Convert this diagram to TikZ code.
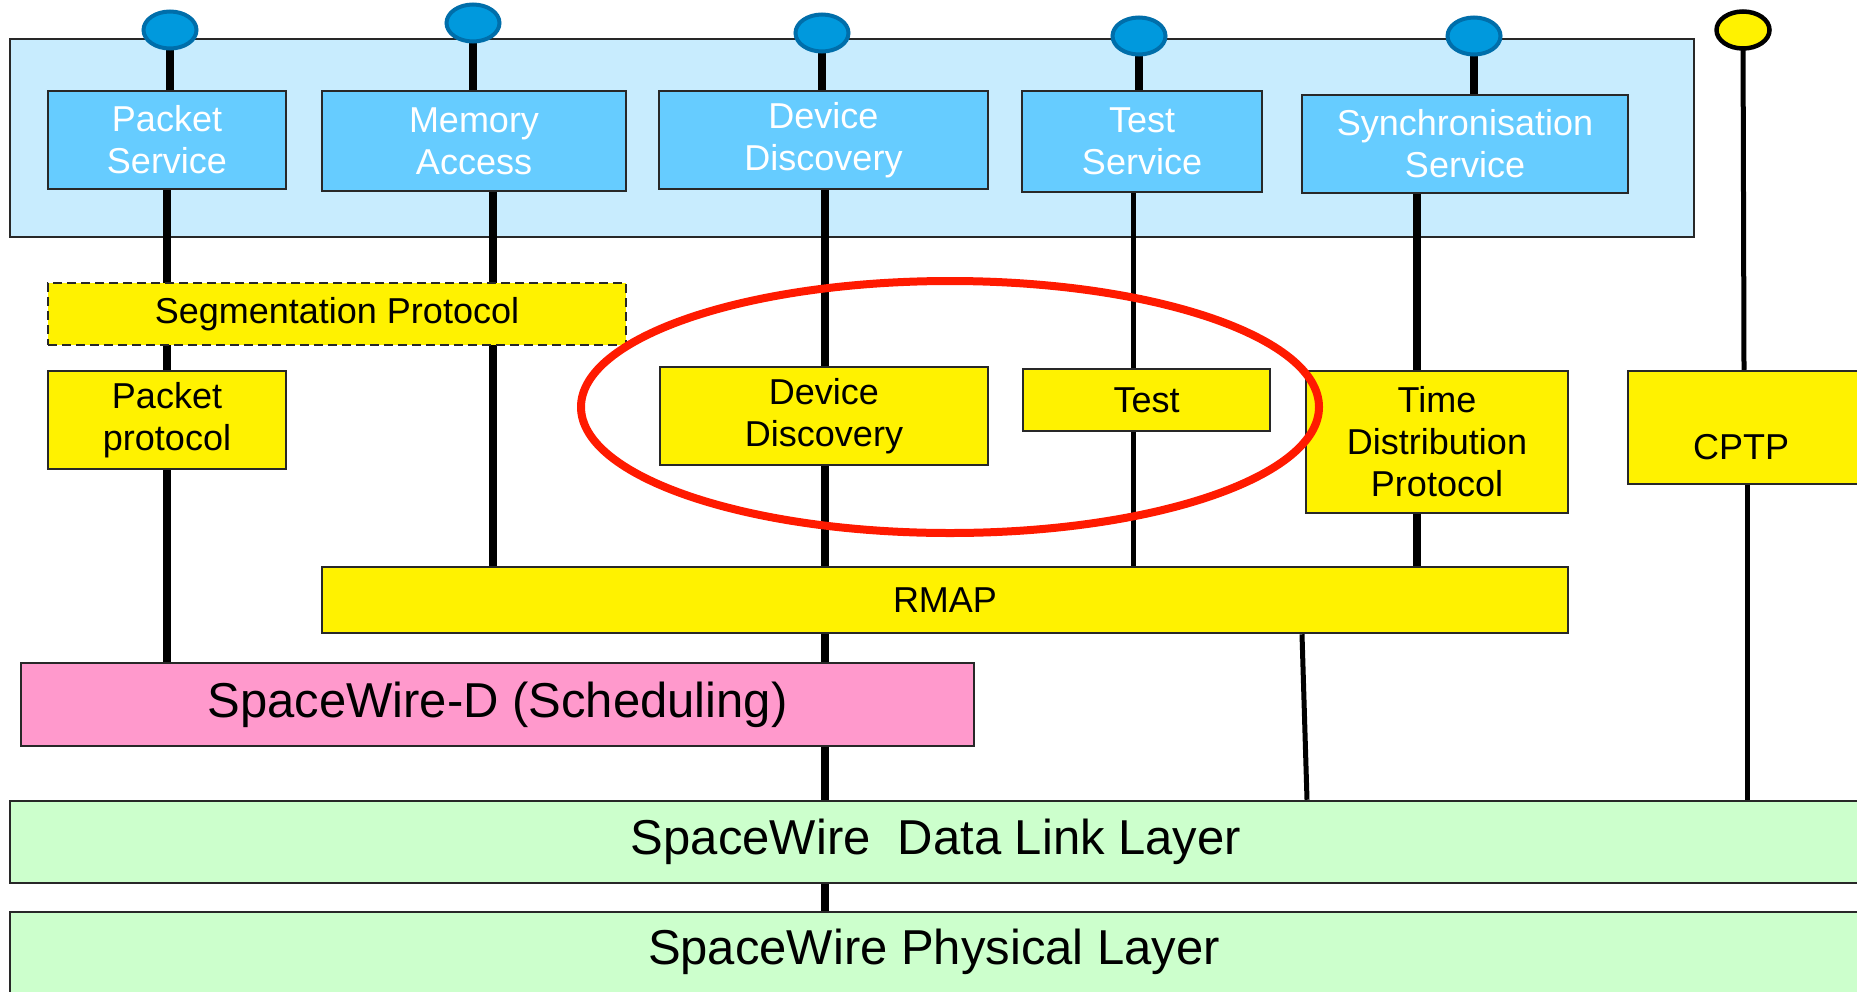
\documentclass[tikz,border=0pt]{standalone}
\usepackage{fontspec}
\setmainfont{Liberation Sans}
\usetikzlibrary{shapes.geometric}
\definecolor{contblue}{RGB}{200,236,254}
\definecolor{svcblue}{RGB}{102,204,255}
\definecolor{portblue}{RGB}{0,153,221}
\definecolor{portedge}{RGB}{0,110,170}
\definecolor{boxedge}{RGB}{40,40,40}
\definecolor{pinkfill}{RGB}{255,153,204}
\definecolor{greenfill}{RGB}{204,255,204}
\definecolor{ringred}{RGB}{255,26,0}
\newcommand\myfsA{\fontsize{36}{42}\selectfont}
\newcommand\myfsB{\fontsize{49}{56}\selectfont}
\pgfdeclarelayer{back}
\pgfdeclarelayer{mid}
\pgfdeclarelayer{top}
\pgfsetlayers{back,mid,main,top}
\tikzset{
  box/.style={draw=boxedge, line width=2.5pt, inner sep=0pt, align=center},
  svc/.style={box, fill=svcblue, text=white, font=\myfsA},
  ybox/.style={box, fill=yellow, font=\myfsA},
  pbox/.style={box, fill=pinkfill, font=\myfsB},
  gbox/.style={box, fill=greenfill, font=\myfsB},
  thickline/.style={line width=7.5pt, draw=black},
  thinline/.style={line width=5pt, draw=black},
  port/.style={ellipse, draw=portedge, fill=portblue, line width=4pt, minimum width=53pt, minimum height=37pt, inner sep=0pt},
  yport/.style={ellipse, draw=black, fill=yellow, line width=4.5pt, minimum width=53pt, minimum height=37pt, inner sep=0pt},
}
\begin{document}
\begin{tikzpicture}[x=1pt,y=-1pt]
\useasboundingbox (0,0) rectangle (1857,991);
\begin{pgfonlayer}{back}
\fill[white] (0,0) rectangle (1857,991);
\node[draw=boxedge, line width=2pt, fill=contblue, minimum width=1684pt, minimum height=198pt, inner sep=0pt] (cont) at (852,138) {};
\end{pgfonlayer}

% x-positions of connectors
\coordinate (xa) at (170,0);
\coordinate (xb) at (167,0);
\coordinate (xc) at (473,0);
\coordinate (xd) at (493,0);
\coordinate (xe) at (822,0);
\coordinate (xf) at (825,0);
\coordinate (xg) at (1139,0);
\coordinate (xh) at (1133,0);
\coordinate (xi) at (1474,0);
\coordinate (xj) at (1417,0);
\coordinate (xk) at (1302,0);
\coordinate (xl) at (1307,0);
\coordinate (xm) at (1744,0);
\coordinate (xn) at (1747,0);

% service boxes
\node[svc, minimum width=238pt, minimum height=98pt] (ps) at (167,140) {Packet\\Service};
\node[svc, minimum width=304pt, minimum height=100pt] (ma) at (474,141) {Memory\\Access};
\node[svc, minimum width=329pt, minimum height=98pt] (dds) at (823.5,140) {Device\\Discovery};
\node[svc, minimum width=240pt, minimum height=101pt] (ts) at (1142,141.5) {Test\\Service};
\node[svc, minimum width=326pt, minimum height=98pt] (ss) at (1465,144) {Synchronisation\\Service};

% ports
\node[port] (p1) at (170,30) {};
\node[port] (p2) at (473,23) {};
\node[port] (p3) at (822,33) {};
\node[port] (p4) at (1139,36) {};
\node[port] (p5) at (1474,36) {};
\node[yport] (p6) at (1743,30) {};

% lower boxes
\node[box, fill=yellow, font=\myfsA, dash pattern=on 9pt off 5pt, minimum width=578pt, minimum height=62pt] (seg) at (337,314) {Segmentation Protocol};
\node[ybox, minimum width=238pt, minimum height=98pt] (pp) at (167,420) {Packet\\protocol};
\node[ybox, minimum width=328pt, minimum height=98pt] (ddp) at (824,416) {Device\\Discovery};
\node[ybox, minimum width=247pt, minimum height=62pt] (tst) at (1146.5,400) {Test};
\node[ybox, minimum width=262pt, minimum height=142pt] (tdp) at (1437,442) {Time\\Distribution\\Protocol};
\node[ybox, minimum width=234pt, minimum height=113pt] (cptp) at (1745,427.5) {};
\path (cptp.center) ++(-4,20) node[font=\myfsA] (cptpt) {CPTP};
\node[ybox, minimum width=1246pt, minimum height=66pt] (rmap) at (945,600) {RMAP};
\node[pbox, minimum width=953pt, minimum height=83pt] (spd) at (497.5,704.5) {SpaceWire-D (Scheduling)};
\node[gbox, minimum width=1852pt, minimum height=82pt] (dll) at (936,842) {SpaceWire\ \ Data Link Layer};
\node[gbox, minimum width=1852pt, minimum height=83pt] (phy) at (936,953.5) {};
\path (phy.center) ++(-2,-2) node[font=\myfsB] (phyt) {SpaceWire Physical Layer};

% connectors
\begin{pgfonlayer}{mid}
\draw[thickline] (p1.center) -- (xa |- ps.north);
\draw[thickline] (p2.center) -- (xc |- ma.north);
\draw[thickline] (p3.center) -- (xe |- dds.north);
\draw[thickline] (p4.center) -- (xg |- ts.north);
\draw[thickline] (p5.center) -- (xi |- ss.north);
\draw[thinline] (p6.center) -- (xm |- cptp.north);

\draw[thickline] (xb |- ps.south) -- (xb |- spd.north);
\draw[thickline] (xd |- ma.south) -- (xd |- rmap.north);
\draw[thickline] (xf |- dds.south) -- (xf |- phy.north);
\draw[thinline] (xh |- ts.south) -- (xh |- tst.north);
\draw[thinline] (xh |- tst.south) -- (xh |- rmap.north);
\draw[thickline] (xj |- ss.south) -- (xj |- rmap.north);
\draw[thinline] (xk |- rmap.south) -- (xl |- dll.north);
\draw[thinline] (xn |- cptp.south) -- (xn |- dll.north);
\end{pgfonlayer}

% red ring
\begin{pgfonlayer}{top}
\draw[ringred, line width=8pt] (950,407) ellipse [x radius=369, y radius=126];
\end{pgfonlayer}
\end{tikzpicture}
\end{document}
